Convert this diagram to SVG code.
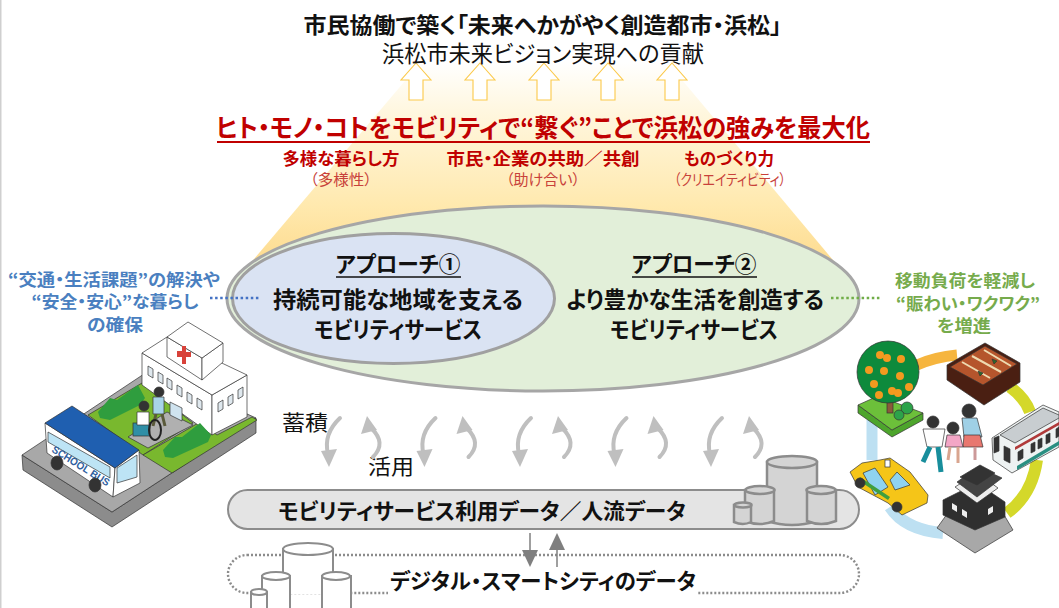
<svg xmlns="http://www.w3.org/2000/svg" width="1059" height="608" viewBox="0 0 1059 608">
<style>
text{font-family:"Noto Sans CJK JP","Liberation Sans",sans-serif;text-anchor:middle;font-feature-settings:"palt"}
.b{font-weight:700}
.k{fill:#111}
.r{fill:#c00000}
.rl{fill:#c8413a}
.up{fill:#fff;stroke:#fbc94a;stroke-width:1.1}
.sw{fill:none;stroke:#bfbfbf;stroke-width:4;stroke-linecap:round}
.swh{fill:#bfbfbf}
.cy{fill:#d4d4d4;stroke:#8c8c8c;stroke-width:2.5}
.cyw{fill:#fff;stroke:#8c8c8c;stroke-width:2}
.gl{fill:#4a7fc0}
.gr{fill:#76ab4c}
</style>
<defs>
<linearGradient id="tr" gradientUnits="userSpaceOnUse" x1="0" y1="62" x2="0" y2="272"><stop offset="0" stop-color="#fff"/><stop offset=".23" stop-color="#fff7e0"/><stop offset=".686" stop-color="#ffe9ae"/><stop offset="1" stop-color="#fdd98a"/></linearGradient>
<g id="cycle">
<path class="sw" d="M340 418Q323 434 328 454"/><path class="swh" d="M329 467L321 451L337 449Z"/>
<path class="sw" d="M373 457Q387 443 371 428"/><path class="swh" d="M367 416L377 430L361 434Z"/>
</g>
</defs>
<rect width="1059" height="608" fill="#fff"/>
<rect width="1.5" height="608" fill="#cfcfcf"/>
<path id="beam" d="M421 62H667L843 272H243Z" fill="url(#tr)"/>
<g id="top-arrows">
<path class="up" d="M416 63L431 80H423V100H409V80H401Z"/>
<path class="up" d="M480 63L495 80H487V100H473V80H465Z"/>
<path class="up" d="M544 63L559 80H551V100H537V80H529Z"/>
<path class="up" d="M608 63L623 80H615V100H601V80H593Z"/>
<path class="up" d="M672 63L687 80H679V100H665V80H657Z"/>
</g>
<g id="title">
<text class="b k" x="542.500" y="33" font-size="22" textLength="478" lengthAdjust="spacingAndGlyphs">市民協働で築く「未来へかがやく創造都市・浜松」</text>
<text class="k" x="543" y="62" font-size="22.500" textLength="322" lengthAdjust="spacingAndGlyphs">浜松市未来ビジョン実現への貢献</text>
</g>
<g id="headline">
<text class="b r" x="543" y="137" font-size="25.500" textLength="654" lengthAdjust="spacingAndGlyphs">ヒト・モノ・コトをモビリティで“繋ぐ”ことで浜松の強みを最大化</text>
<line x1="217" y1="142" x2="870" y2="142" stroke="#c00000" stroke-width="1.8"/>
</g>
<g id="strength-1"><text class="b r" x="341" y="165" font-size="16.500" textLength="117" lengthAdjust="spacingAndGlyphs">多様な暮らし方</text><text class="rl" x="341" y="185" font-size="15" textLength="62" lengthAdjust="spacingAndGlyphs">（多様性）</text></g>
<g id="strength-2"><text class="b r" x="543" y="165" font-size="16.500" textLength="193" lengthAdjust="spacingAndGlyphs">市民・企業の共助／共創</text><text class="rl" x="543" y="185" font-size="15" textLength="74" lengthAdjust="spacingAndGlyphs">（助け合い）</text></g>
<g id="strength-3"><text class="b r" x="729" y="165" font-size="16.500" textLength="90" lengthAdjust="spacingAndGlyphs">ものづくり力</text><text class="rl" x="730" y="185" font-size="15" textLength="112" lengthAdjust="spacingAndGlyphs">（クリエイティビティ）</text></g>

<g id="approach-2">
<ellipse cx="543" cy="298.500" rx="316" ry="92.500" fill="#e2efd9" stroke="#a6a6a6" stroke-width="3"/>
<text class="b k" x="694" y="272" font-size="22" textLength="125" lengthAdjust="spacingAndGlyphs">アプローチ②</text>
<line x1="632" y1="277" x2="757" y2="277" stroke="#111" stroke-width="1.4"/>
<text class="b k" x="695" y="308" font-size="22.500" textLength="258" lengthAdjust="spacingAndGlyphs">より豊かな生活を創造する</text>
<text class="b k" x="694" y="338" font-size="22.500" textLength="168" lengthAdjust="spacingAndGlyphs">モビリティサービス</text>
</g>
<g id="approach-1">
<ellipse cx="393.500" cy="298.500" rx="161" ry="65" fill="#dae3f3" stroke="#a0a0a0" stroke-width="3"/>
<text class="b k" x="398" y="272" font-size="22" textLength="125" lengthAdjust="spacingAndGlyphs">アプローチ①</text>
<line x1="336" y1="277" x2="461" y2="277" stroke="#111" stroke-width="1.4"/>
<text class="b k" x="398" y="308" font-size="22.500" textLength="250" lengthAdjust="spacingAndGlyphs">持続可能な地域を支える</text>
<text class="b k" x="398" y="338" font-size="22.500" textLength="168" lengthAdjust="spacingAndGlyphs">モビリティサービス</text>
</g>

<text id="label-store" class="k" x="305" y="430" font-size="21" textLength="46" lengthAdjust="spacingAndGlyphs">蓄積</text>
<text id="label-use" class="k" x="391" y="474" font-size="21" textLength="46" lengthAdjust="spacingAndGlyphs">活用</text>

<g id="data-bar">
<rect x="228" y="490" width="631" height="39" rx="19.500" fill="#e4e4e4" stroke="#8c8c8c" stroke-width="2"/>
<text class="b k" x="482" y="519" font-size="21.500" textLength="408" lengthAdjust="spacingAndGlyphs">モビリティサービス利用データ／人流データ</text>
<path class="cy" d="M767 462V521Q792 529 817 521V462Z"/><ellipse class="cy" cx="792" cy="462" rx="25" ry="6"/>
<path class="cy" d="M745 490V521Q760 527 774 521V490Z"/><ellipse class="cy" cx="760" cy="490" rx="14.500" ry="4"/>
<path class="cy" d="M807 490V521Q821 527 836 521V490Z"/><ellipse class="cy" cx="821" cy="490" rx="14.500" ry="4"/>
<path class="cy" d="M734 505V522Q743 526 751 522V505Z"/><ellipse class="cy" cx="743" cy="505" rx="8.500" ry="2.500"/>
</g>
<g id="city-data">
<rect x="228" y="555" width="631" height="38" rx="19" fill="#fff" stroke="#8c8c8c" stroke-width="2.400" stroke-dasharray="2 2"/>
<path class="cyw" d="M283 594V549H333V594"/><ellipse class="cyw" cx="308" cy="549" rx="25" ry="6"/>
<path class="cyw" d="M262 609V576H290V609"/><ellipse class="cyw" cx="276" cy="576" rx="14" ry="4"/>
<path class="cyw" d="M322 609V576H351V609"/><ellipse class="cyw" cx="336" cy="576" rx="14" ry="4"/>
<path class="cyw" d="M251 609V592H267V609"/><ellipse class="cyw" cx="259" cy="592" rx="8" ry="3"/>
<rect x="388" y="566" width="310" height="30" fill="#fff"/>
<text class="b k" x="543" y="589" font-size="21.500" textLength="306" lengthAdjust="spacingAndGlyphs">デジタル・スマートシティのデータ</text>
</g>

<g id="connectors">
<line x1="210" y1="298" x2="261" y2="298" stroke="#4472c4" stroke-width="2.400" stroke-dasharray="2.500 2.600"/>
<line x1="831" y1="298" x2="882" y2="298" stroke="#70ad47" stroke-width="2.400" stroke-dasharray="2.500 2.600"/>
<use href="#cycle"/>
<use href="#cycle" x="95.500"/>
<use href="#cycle" x="191"/>
<use href="#cycle" x="286.500"/>
<use href="#cycle" x="382"/>
<path d="M530 533V552" stroke="#7f7f7f" stroke-width="1.500"/><path d="M530 567L522 550H538Z" fill="#7f7f7f"/>
<path d="M557 567V548" stroke="#7f7f7f" stroke-width="1.500"/><path d="M557 533L549 550H565Z" fill="#7f7f7f"/>
</g>

<g id="goal-left">
<text class="b gl" x="114" y="286" font-size="16.500" textLength="212" lengthAdjust="spacingAndGlyphs">“交通・生活課題”の解決や</text>
<text class="b gl" x="115" y="308" font-size="16.500" textLength="167" lengthAdjust="spacingAndGlyphs">“安全・安心”な暮らし</text>
<text class="b gl" x="115" y="331" font-size="16.500" textLength="56" lengthAdjust="spacingAndGlyphs">の確保</text>
</g>
<g id="goal-right">
<text class="b gr" x="965" y="287" font-size="16.500" textLength="140" lengthAdjust="spacingAndGlyphs">移動負荷を軽減し</text>
<text class="b gr" x="968" y="310" font-size="16.500" textLength="144" lengthAdjust="spacingAndGlyphs">“賑わい・ワクワク”</text>
<text class="b gr" x="964" y="332" font-size="16.500" textLength="54" lengthAdjust="spacingAndGlyphs">を増進</text>
</g>

<g id="illustration-hospital" stroke="#333" stroke-width=".7">
<path d="M22 455L112 512L256 418V433L112 527L23 470Z" fill="#8c8c8c"/>
<path d="M22 455L112 512L256 418L150 370Z" fill="#a8a8a8"/>
<path d="M88 415L142 383L193 423L143 455Z" fill="#79b82e"/>
<path d="M143 455L200 422L217 435L252 417L257 420L172 473Z" fill="#79b82e"/>
<path d="M128 437L167 412L193 425L148 448Z" fill="#b0b0b0"/>
<path d="M142 353L212 395V435L142 385Z" fill="#fff"/>
<path d="M212 395L247 375V417L212 435Z" fill="#fff"/>
<path d="M142 353L167 337L247 375L212 395Z" fill="#fff"/>
<path d="M167 337L202 358V380L167 357Z" fill="#fff"/>
<path d="M202 358L223 343V362L202 380Z" fill="#fff"/>
<path d="M167 337L188 322L223 343L202 358Z" fill="#fff"/>
<path d="M177 351h5v-5h4v6h5v5h-5v7h-4v-7h-5z" fill="#d8423a" stroke="none"/>
<path d="M148 366l5 3v9l-5-3zM158 372l5 3v9l-5-3zM167 378l5 3v9l-5-3zM177 385l5 3v9l-5-3zM187 392l5 3v9l-5-3zM197 398l5 3v9l-5-3zM218 403l5-3v9l-5 3zM228 397l5-3v9l-5 3zM238 390l5-3v9l-5 3z" fill="#dfe8ee"/>
<path d="M170 402l12 6v13l-12-6z" fill="#cfe3ef"/>
<path d="M98 412L110 398L117 400L138 385L145 398L140 405L110 420L100 418Z" fill="#2f9d3e" stroke="none"/>
<path d="M163 450L175 437L182 437L200 423L211 435L208 442L173 458L165 457Z" fill="#2f9d3e" stroke="none"/>
<circle cx="159" cy="392" r="5" fill="#333"/><path d="M153 397h11v17h-11z" fill="#a8d4e8"/><path d="M156 414l-3 12M162 414l3 12" stroke="#5a5a3a" stroke-width="3" fill="none"/>
<rect x="133" y="423" width="17" height="13" fill="#2f8fa6"/>
<circle cx="144" cy="406" r="5" fill="#333"/><path d="M137 412h12v13h-12z" fill="#fff"/><ellipse cx="155" cy="430" rx="6" ry="10" fill="none" stroke="#222" stroke-width="2"/>
<path d="M45 423L115 468L113 497L47 453Z" fill="#fff"/>
<path d="M115 468L139 450L140 483L113 497Z" fill="#fff"/>
<path d="M45 423L72 406L139 450L115 468Z" fill="#1f5fb0"/>
<path d="M117 468L137 455L137 477L117 483Z" fill="#bde4f5"/>
<path d="M48 432L110 467V478L48 442Z" fill="#bde4f5"/>
<text x="79" y="469" font-size="10.500" class="b" fill="#2f5f9f" stroke="none" transform="rotate(32 79 469)" textLength="66" lengthAdjust="spacingAndGlyphs" style="font-family:'Liberation Sans',sans-serif">SCHOOL BUS</text>
<ellipse cx="57" cy="463" rx="6" ry="7" fill="#333"/><ellipse cx="95" cy="485" rx="6" ry="7" fill="#333"/>
</g>

<g id="illustration-ring">
<path d="M917 365Q935 357 957 355" fill="none" stroke="#f6b53e" stroke-width="11"/>
<path d="M1010 387Q1025 398 1030 412" fill="none" stroke="#d4d82a" stroke-width="12"/>
<path d="M1037 460Q1032 495 1007 513" fill="none" stroke="#d4d82a" stroke-width="12"/>
<path d="M890 507Q905 530 943 533" fill="none" stroke="#bde0f2" stroke-width="12"/>
<path d="M872 420V460" fill="none" stroke="#bde0f2" stroke-width="11"/>
<g stroke="#333" stroke-width=".7">
<path d="M858 405L892 430L923 413V420L892 437L858 413Z" fill="#4da52c"/>
<path d="M858 405L878 396L923 413L892 430Z" fill="#6cc03a"/>
<rect x="887" y="402" width="6" height="11" fill="#8a5a3a"/>
<ellipse cx="888" cy="372" rx="31" ry="31" fill="#0d8a3c"/>
<g fill="#f39a1f" stroke="none"><circle cx="880" cy="355" r="4"/><circle cx="887" cy="358" r="4"/><circle cx="901" cy="359" r="4"/><circle cx="869" cy="370" r="4"/><circle cx="884" cy="371" r="4"/><circle cx="900" cy="376" r="4"/><circle cx="874" cy="384" r="4"/><circle cx="879" cy="395" r="4"/><circle cx="892" cy="391" r="4"/><circle cx="898" cy="393" r="4"/><circle cx="909" cy="387" r="4"/></g>
<circle cx="907" cy="408" r="6" fill="#2ca34a"/><circle cx="899" cy="415" r="5" fill="#2ca34a"/>
<path d="M947 365L985 343L1020 363V382L984 405L947 380Z" fill="#4a1f12"/>
<path d="M950 367L985 346L1017 364L983 385Z" fill="#b5552c"/>
<path d="M962 362L990 378M972 356L1001 372M984 350L1011 366" stroke="#eedab0" stroke-width="2" fill="none"/>
<path d="M992 359l5 2-3 3zM978 371l5 2-3 3z" fill="#2d6a2a"/>
<path d="M992 438L1043 405L1059 412V447L1012 473L993 460Z" fill="#eef2f2"/>
<path d="M1000 435L1043 408L1059 415V418L1015 443Z" fill="#c8cdd0"/>
<path d="M1015 447L1059 422V425L1015 450Z" fill="#b03a3a" stroke="none"/>
<path d="M1017 466L1059 441V445L1017 470Z" fill="#2a8f82" stroke="none"/>
<path d="M994 438l5-2v15l-5 2zM1004 446l6 3v14l-6-3z" fill="#333"/>
<path d="M1018 452l5-3v9l-5 3zM1031 444l4-2v9l-4 2zM1038 440l4-2v9l-4 2zM1046 435l4-2v9l-4 2zM1056 429l3-2v9l-3 2z" fill="#333"/>
<path d="M937 528L955 503H997L1013 530L975 553Z" fill="#a8a8a8"/>
<path d="M943 500L977 483L1005 502V517L975 530L943 515Z" fill="#2f2f2f"/>
<path d="M955 487L977 473L998 488L977 503Z" fill="#eee"/>
<path d="M957 482L978 467L1002 478L977 497Z" fill="#444"/>
<path d="M960 477L980 465L995 473L977 485Z" fill="#333"/>
<path d="M952 503l5 3v6l-5-3zM962 509l5 3v6l-5-3zM988 509l5-3v6l-5 3z" fill="#eee" stroke="none"/>
<path d="M850 472L862 463L880 460L890 458L910 472L928 495L927 503L902 515L888 503L858 487Z" fill="#f5c518"/>
<path d="M863 473L875 468L888 487L875 495Z" fill="#8fd3f0"/>
<path d="M890 480L897 472L910 485L895 490Z" fill="#8fd3f0"/>
<path d="M858 480L888 500L890 497L860 477Z" fill="#3f9f3f" stroke="none"/>
<circle cx="860" cy="483" r="5" fill="#333"/><circle cx="897" cy="507" r="5" fill="#333"/>
<rect x="885" y="460" width="5" height="7" fill="#fff"/>
<circle cx="933" cy="422" r="6" fill="#333"/><path d="M923 429H945L942 447H927Z" fill="#fff"/><path d="M930 447L923 462M938 447L941 472" stroke="#188e9c" stroke-width="5" fill="none"/>
<circle cx="969" cy="411" r="7" fill="#333"/><path d="M962 418H977L982 437H964Z" fill="#9fd0e6"/><path d="M964 435H980L983 447H963Z" fill="#e8776f"/><path d="M975 447V460" stroke="#c99" stroke-width="3" fill="none"/>
<circle cx="953" cy="428" r="6" fill="#333"/><path d="M947 435H960L963 447H945Z" fill="#f3a6c6"/><path d="M950 447L948 460M958 447L958 463" stroke="#d9a58f" stroke-width="3" fill="none"/>
</g></g>
</svg>
